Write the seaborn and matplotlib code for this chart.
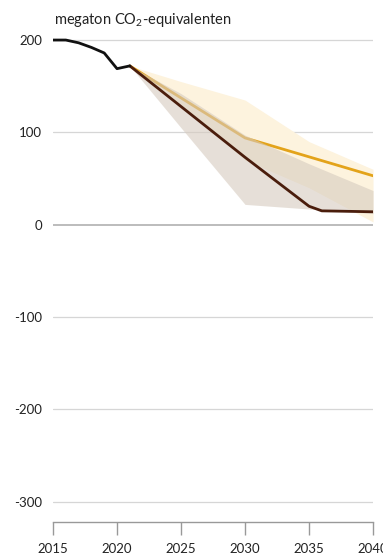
import matplotlib
matplotlib.use("Agg")
import matplotlib.pyplot as plt
import numpy as np
import pandas as pd
import seaborn as sns

sns.set_style("white")
plt.rcParams['font.family'] = ['Lato', 'DejaVu Sans']
plt.rcParams['mathtext.fontset'] = 'custom'
plt.rcParams['mathtext.rm'] = 'Lato'
plt.rcParams['mathtext.it'] = 'Lato'

# historical emissions
hist_years = [2015, 2016, 2017, 2018, 2019, 2020, 2021]
hist_values = [200, 200, 197, 192, 186, 169, 172]

# projection (yellow) line and its band
proj_years = [2021, 2030, 2040]
proj_values = [172, 94, 53]
band_years = [2021, 2025, 2030, 2035, 2040]
proj_upper = [172, 155, 135, 90, 60]
proj_lower = [172, 130, 70, 40, 3]

# policy (dark brown) line and its band
pol_years = [2021, 2030, 2035, 2036, 2040]
pol_values = [172, 73, 20, 15, 14]
pol_upper = [172, 142, 97, 66, 37]
pol_lower = [172, 105, 22, 17, 12]

yticks = [-300, -200, -100, 0, 100, 200]
xticks = [2015, 2020, 2025, 2030, 2035, 2040]

df_hist = pd.DataFrame({'Jaar': hist_years, 'Emissie': hist_values})
df_proj = pd.DataFrame({'Jaar': proj_years, 'Emissie': proj_values})
df_pol = pd.DataFrame({'Jaar': pol_years, 'Emissie': pol_values})

fig = plt.figure(figsize=(3.83, 5.57), dpi=100)
ax = fig.add_axes([0.1384, 0.0628, 0.8356, 0.8736])

for y in yticks:
    ax.axhline(y, color='#aaaaaa' if y == 0 else '#d6d6d6', lw=1.1 if y == 0 else 0.9, zorder=0)

ax.fill_between(band_years, proj_lower, proj_upper, color='#fdf3de', lw=0, zorder=1)
sns.lineplot(ax=ax, data=df_proj, x='Jaar', y='Emissie', color='#e3a31a', lw=2, zorder=2)
ax.fill_between(band_years, pol_lower, pol_upper, color='#d6cbbf', alpha=0.6, lw=0, zorder=3)
sns.lineplot(ax=ax, data=df_pol, x='Jaar', y='Emissie', color='#4a1d0c', lw=2, zorder=4)
sns.lineplot(ax=ax, data=df_hist, x='Jaar', y='Emissie', color='#111111', lw=2, zorder=5)

ax.set_xlim(2015, 2040)
ax.set_ylim(-322, 205)
ax.set_xticks(xticks)
ax.set_yticks(yticks)
ax.set_xticklabels([str(x) for x in xticks], fontsize=9.5, color='#222222')
ax.set_yticklabels([str(y) for y in yticks], fontsize=9.5, color='#222222')
ax.tick_params(axis='y', left=False, length=0, pad=8)
ax.tick_params(axis='x', bottom=True, length=9, width=1, color='#999999', direction='out', pad=6)
for s in ['top', 'right', 'left']:
    ax.spines[s].set_visible(False)
ax.spines['bottom'].set_color('#999999')
ax.spines['bottom'].set_linewidth(1)
ax.set_xlabel('')
ax.set_ylabel('')

fig.text(54 / 383, 1 - 20 / 557, 'megaton CO$_2$-equivalenten', fontsize=10.5,
         color='#222222', va='center', ha='left')

fig.savefig('out.png', dpi=100)
